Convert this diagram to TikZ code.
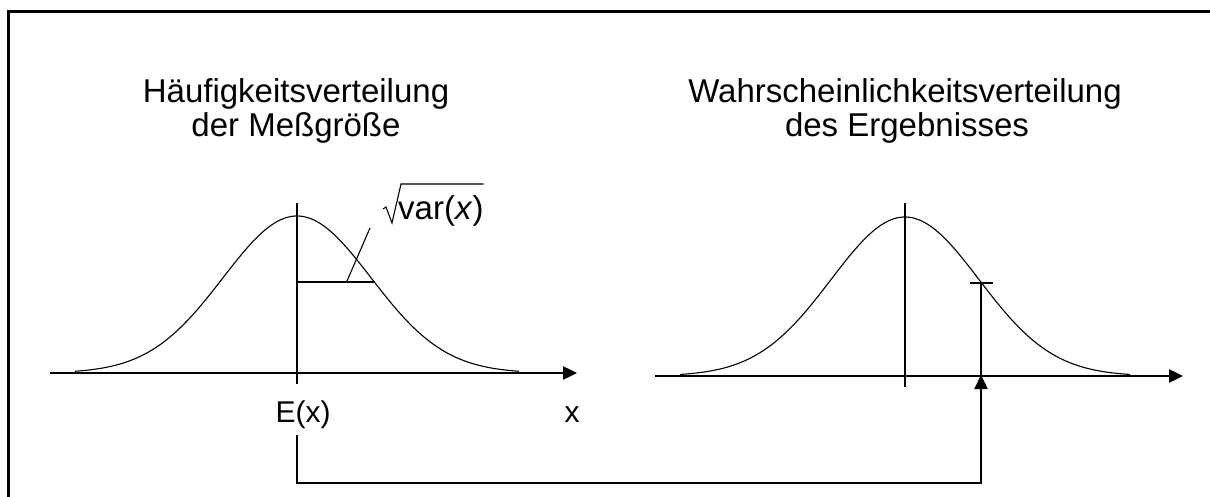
\documentclass[tikz,border=0pt]{standalone}
\usepackage{fontspec}
\setmainfont{Liberation Sans}
\usetikzlibrary{arrows.meta}
\begin{document}
\begin{tikzpicture}[x=1pt,y=-1pt,
  thickline/.style={line width=2.4pt},
  thinline/.style={line width=1.1pt},
  curve/.style={line width=1.1pt},
  tip/.style={-{Triangle[length=14pt,width=13pt]}},
  title/.style={inner sep=0pt, anchor=base, font=\fontsize{33}{36}\selectfont},
  lab/.style={inner sep=0pt, anchor=base, font=\fontsize{30}{34}\selectfont}]
\useasboundingbox (0,0) rectangle (1210,497);
\fill[white] (0,0) rectangle (1210,497);
\clip (0,0) rectangle (1210,497);
\draw[line width=3pt] (8,12) rectangle (1240,530);

% titles
\node[title] (t1a) at (296,103) {Häufigkeitsverteilung};
\node[title] (t1b) at (296,137) {der Meßgröße};
\node[title] (t2a) at (905,103) {Wahrscheinlichkeitsverteilung};
\node[title] (t2b) at (907,137) {des Ergebnisses};

% left distribution
\coordinate (LV) at (297,216);
\coordinate (LaxS) at (50,373);
\coordinate (LaxE) at (577,373);
\draw[thickline, tip] (LaxS) -- (LaxE);
\draw[thickline] (297,203) -- (297,384);
\draw[curve] plot[domain=-222:222, samples=120]
  ({297+\x},{373-157*exp(0-0.5*((\x/74)*(\x/74)))});
\draw[thinline] (297,282) -- (375,282);
\draw[thinline] (347,281) -- (370,228);
\node[lab, anchor=base west, font=\fontsize{33}{36}\selectfont] (var) at (398,219) {var(\textit{x})};
\draw[thinline] (383,209) -- (386,207) -- (392,223) -- (401,184) -- (var.north east |- 0,184);

\node[lab, outer ysep=6.5pt] (Ex) at (303,422) {E(x)};
\node[lab] (xl) at (572,422) {x};

% right distribution
\coordinate (RaxS) at (655,376);
\coordinate (RaxE) at (1183,376);
\draw[thickline, tip] (RaxS) -- (RaxE);
\draw[thickline] (905,203) -- (905,387);
\draw[curve] plot[domain=-225:225, samples=120]
  ({905+\x},{376-159*exp(0-0.5*((\x/74)*(\x/74)))});
\coordinate (Mk) at (981,375);
\coordinate (MkTop) at (981,283);
\draw[thickline] (Mk) -- (MkTop);
\draw[thickline] (970,283) -- (993,283);

% connector
\draw[thickline, tip] (Ex.south -| LV) -- (297,483) -| (Mk);
\end{tikzpicture}
\end{document}
